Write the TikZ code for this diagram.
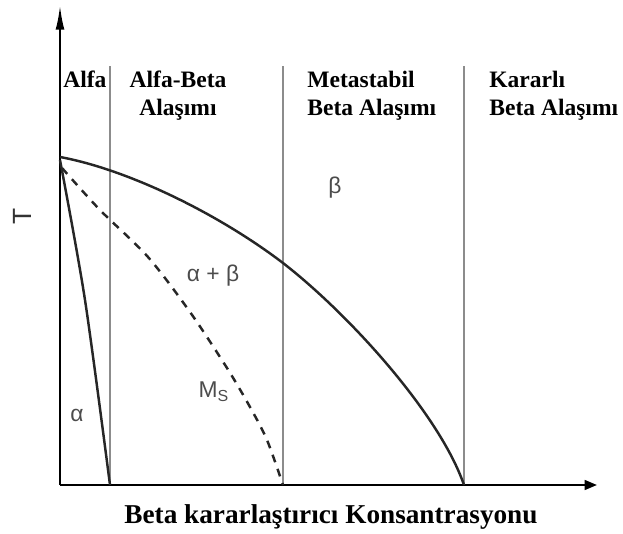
\documentclass[tikz,border=0pt]{standalone}
\usepackage{fontspec}
\setmainfont{Liberation Serif}
\setsansfont{Liberation Sans}
\usetikzlibrary{arrows.meta}

\begin{document}
\begin{tikzpicture}[x=0.02cm,y=-0.02cm,
  phase/.style={font=\sffamily\fontsize{13}{15}\selectfont,text=black!70},
  region/.style={font=\bfseries\fontsize{13.4}{15.9}\selectfont,inner sep=0pt},
  boundary/.style={line width=1.4pt,black!85},
  divider/.style={line width=1pt,black!45}]
\useasboundingbox (0,0) rectangle (623,534);

% Axes
\coordinate (O) at (60,485);
\coordinate (Ttip) at (60,5);
\coordinate (Ctip) at (597,485);
\draw[line width=1.3pt,-{Latex[length=14pt,width=5pt]}] (O) -- (Ttip);
\draw[line width=1.3pt,-{Triangle[length=7pt,width=5.5pt]}] (O) -- (Ctip);

% Region dividers
\foreach \xd/\nm in {110/d1,283/d2,464/d3}{
  \coordinate (\nm top) at (\xd,66);
  \coordinate (\nm) at (\xd,485);
  \draw[divider] (\nm top) -- (\nm);
}

% Beta transus (upper curve)
\coordinate (bt) at (60,157);
\coordinate (bm) at (283,263);
\draw[boundary] (bt) .. controls (130,170) and (220,215) .. (bm)
  .. controls (350,315) and (440,415) .. (d3);

% Alpha boundary
\draw[boundary] plot[smooth] coordinates {(60,160) (85,300) (d1)};

% Ms line (dashed)
\draw[boundary,dash pattern=on 4.5pt off 4pt] plot[smooth] coordinates {(62,168) (100,210) (148,257)
  (190,312) (227,368) (250,407) (267,440) (d2)};

% Region titles
\node[region,anchor=north west] (alfa) at (63,71) {Alfa};
\node[region,anchor=north,align=center] (alfabeta) at (178,71) {Alfa-Beta\\Alaşımı};
\node[region,anchor=north west,align=left] (meta) at (307,71) {Metastabil\\Beta Alaşımı};
\node[region,anchor=north west,align=left] (kararli) at (489,71) {Kararlı\\Beta Alaşımı};

% Phase labels
\node[phase] (beta) at (335,188) {β};
\node[phase] (ab) at (213,276) {α + β};
\node[phase] (ms) at (214,392) {M\textsubscript{S}};
\node[phase] (alpha) at (77,415) {α};

% Axis labels
\node[phase,font=\sffamily\fontsize{15}{17}\selectfont,text=black!80,rotate=90] (T) at (22,216) {T};
\node[font=\bfseries\fontsize{15.5}{18}\selectfont,inner sep=0pt,anchor=base] (conc) at (331,523)
  {Beta kararlaştırıcı Konsantrasyonu};

\end{tikzpicture}
\end{document}
